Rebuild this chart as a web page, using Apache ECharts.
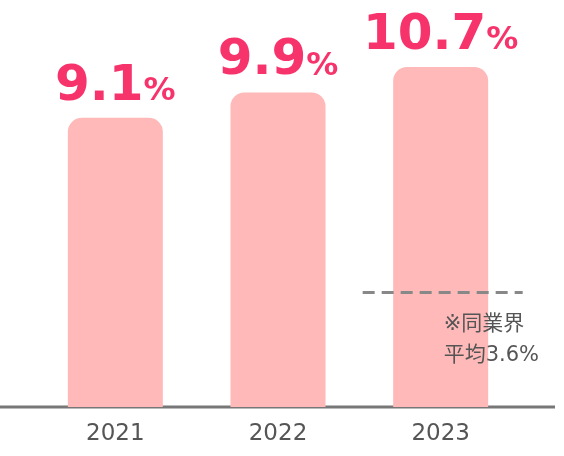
<!DOCTYPE html><html><head><meta charset="utf-8">
<script src="https://cdn.jsdelivr.net/npm/echarts@6/dist/echarts.min.js"></script>
<style>html,body{margin:0;padding:0;background:#fff}#c{width:564px;height:456px}</style></head><body><div id="c"></div><script>
const categories=['2021','2022','2023'];
const values=[9.1,9.9,10.7];
const avgValue=3.6;
const avgLabel='※同業界\n平均3.6%';
const chart=echarts.init(document.getElementById('c'));
const font='"DejaVu Sans","Noto Sans CJK JP",sans-serif';
chart.setOption({
 animation:false,
 grid:{left:34,right:42,top:67,bottom:49},
 xAxis:{type:'category',data:categories,axisLine:{show:false},axisTick:{show:false},
  axisLabel:{color:'#555',fontSize:23,margin:16,fontFamily:font}},
 yAxis:{type:'value',min:0,max:10.7,show:false,splitLine:{show:false}},
 graphic:[{type:'line',shape:{x1:0,y1:407,x2:555,y2:407},style:{stroke:'#777',lineWidth:3}}],
 series:[{type:'bar',data:values,barWidth:95,itemStyle:{color:'#ffb9b9',borderRadius:[14,14,0,0]},
  label:{show:true,position:'top',distance:6,formatter:p=>'{n|'+p.value.toFixed(1)+'}{p|%}',
   rich:{n:{fontSize:50,fontWeight:'bold',color:'#f7336b',fontFamily:'"DejaVu Sans",sans-serif'},
         p:{fontSize:32,fontWeight:'bold',color:'#f7336b',fontFamily:'"DejaVu Sans",sans-serif',padding:[10,0,0,0]}}}},
 {type:'custom',data:[[2,avgValue]],z:5,renderItem:(params,api)=>{
   const c=api.coord([api.value(0),api.value(1)]);
   return {type:'group',children:[
    {type:'line',shape:{x1:c[0]-78,y1:c[1],x2:c[0]+82,y2:c[1]},style:{stroke:'#888',lineWidth:3,lineDash:[12,7]}},
    {type:'text',x:c[0]+3,y:c[1]+16,style:{text:avgLabel,fill:'#555',fontSize:21,lineHeight:31,fontFamily:font}}
   ]};}}]
});
</script></body></html>
